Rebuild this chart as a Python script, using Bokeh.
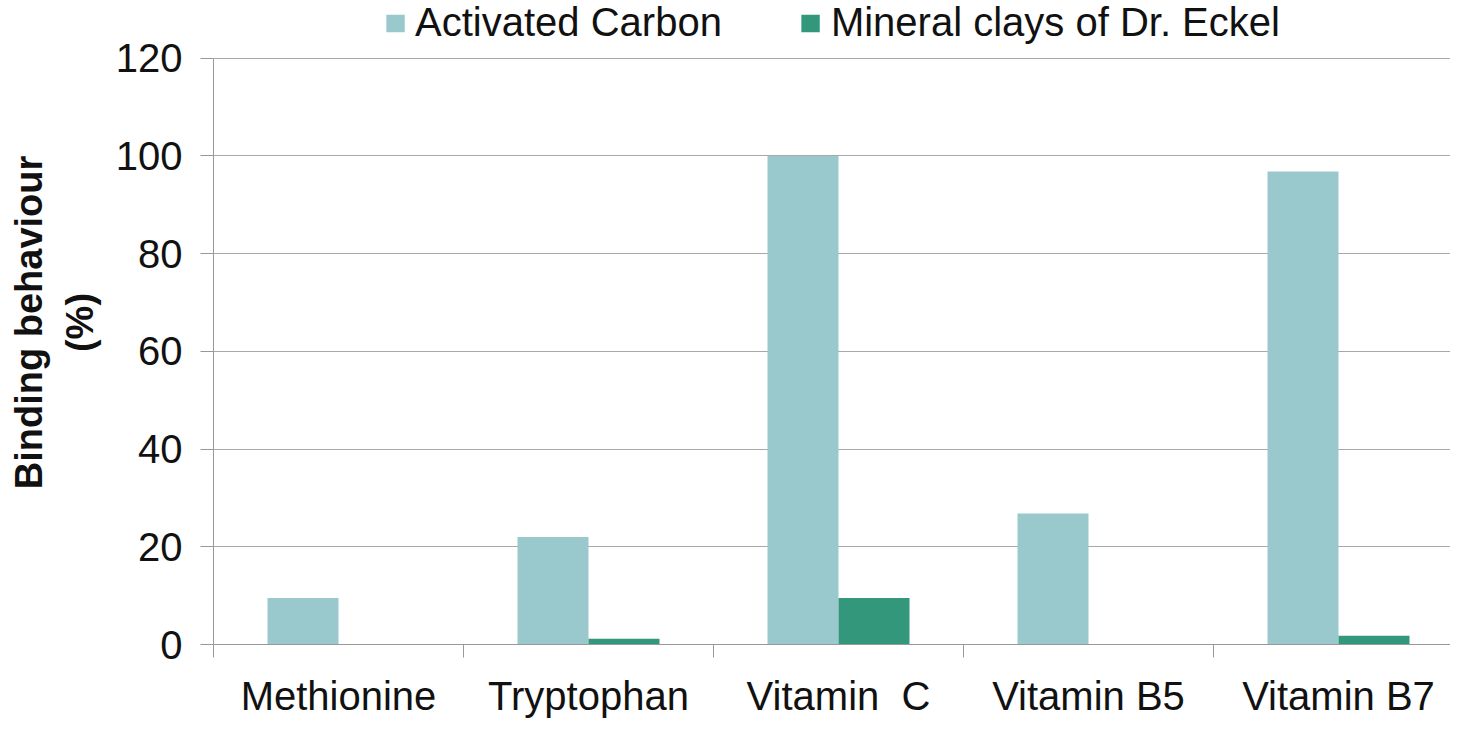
from bokeh.plotting import figure
from bokeh.models import Range1d, FixedTicker, Legend, LegendItem
from bokeh.embed import file_html
from bokeh.resources import INLINE
import numpy as np

categories = ["Methionine", "Tryptophan", "Vitamin\u00a0\u00a0C", "Vitamin B5", "Vitamin B7"]
activated_carbon = [9.5, 22.0, 100.0, 26.8, 96.8]
mineral_clays = [0.0, 1.2, 9.5, 0.0, 1.8]
series_names = ["Activated Carbon", "Mineral clays of Dr. Eckel"]
y_ticks = [0, 20, 40, 60, 80, 100, 120]

C_AC = "#99C9CC"
C_MC = "#33977C"
FONT = "Liberation Sans"

p = figure(width=1450, height=720, output_backend="svg", toolbar_location=None,
           x_range=Range1d(0, 4.948), y_range=Range1d(0, 131.8),
           min_border_left=213, min_border_right=0, min_border_top=0, min_border_bottom=73)
p.outline_line_color = None
p.background_fill_color = "white"

centers = np.arange(len(categories)) + 0.5
bw = 0.284
r1 = p.vbar(x=centers - bw / 2, top=activated_carbon, width=bw, fill_color=C_AC, line_color=None)
r2 = p.vbar(x=centers + bw / 2, top=mineral_clays, width=bw, fill_color=C_MC, line_color=None)

# x axis
p.xaxis.ticker = FixedTicker(ticks=list(centers), minor_ticks=list(range(len(categories) + 1)))
p.xaxis.major_label_overrides = {float(c): n for c, n in zip(centers, categories)}
p.xaxis.major_tick_line_color = None
p.xaxis.minor_tick_line_color = "#999999"
p.xaxis.minor_tick_out = 13
p.xaxis.minor_tick_in = 0
p.xaxis.axis_line_color = "#999999"
p.xaxis.major_label_text_font = FONT
p.xaxis.major_label_text_font_size = "40px"
p.xaxis.major_label_text_color = "#111111"
p.xaxis.major_label_standoff = 16
p.xgrid.grid_line_color = None

# y axis
p.yaxis.ticker = FixedTicker(ticks=y_ticks)
p.yaxis.bounds = (y_ticks[0], y_ticks[-1])
p.yaxis.minor_tick_line_color = None
p.yaxis.major_tick_line_color = "#999999"
p.yaxis.major_tick_out = 13
p.yaxis.major_tick_in = 0
p.yaxis.axis_line_color = "#999999"
p.yaxis.major_label_text_font = FONT
p.yaxis.major_label_text_font_size = "40px"
p.yaxis.major_label_text_color = "#111111"
p.yaxis.major_label_standoff = 18
p.yaxis.axis_label = "Binding behaviour\n(%)"
p.yaxis.axis_label_text_font = FONT
p.yaxis.axis_label_text_font_size = "38px"
p.yaxis.axis_label_text_font_style = "bold"
p.yaxis.axis_label_text_color = "#111111"
p.yaxis.axis_label_standoff = 12
p.ygrid.grid_line_color = "#a8a8a8"
p.ygrid.grid_line_width = 1

legend = Legend(items=[LegendItem(label=series_names[0], renderers=[r1]),
                       LegendItem(label=series_names[1], renderers=[r2])],
                orientation="horizontal", location="top_center")
legend.label_text_font = FONT
legend.label_text_font_size = "40px"
legend.label_text_color = "#111111"
legend.label_height = 40
legend.glyph_width = 23
legend.glyph_height = 22
legend.label_standoff = 9
legend.spacing = 77
legend.padding = 0
legend.margin = 0
legend.border_line_color = None
legend.background_fill_alpha = 0
p.add_layout(legend, "center")

open("out.html", "w").write(file_html(p, INLINE))
